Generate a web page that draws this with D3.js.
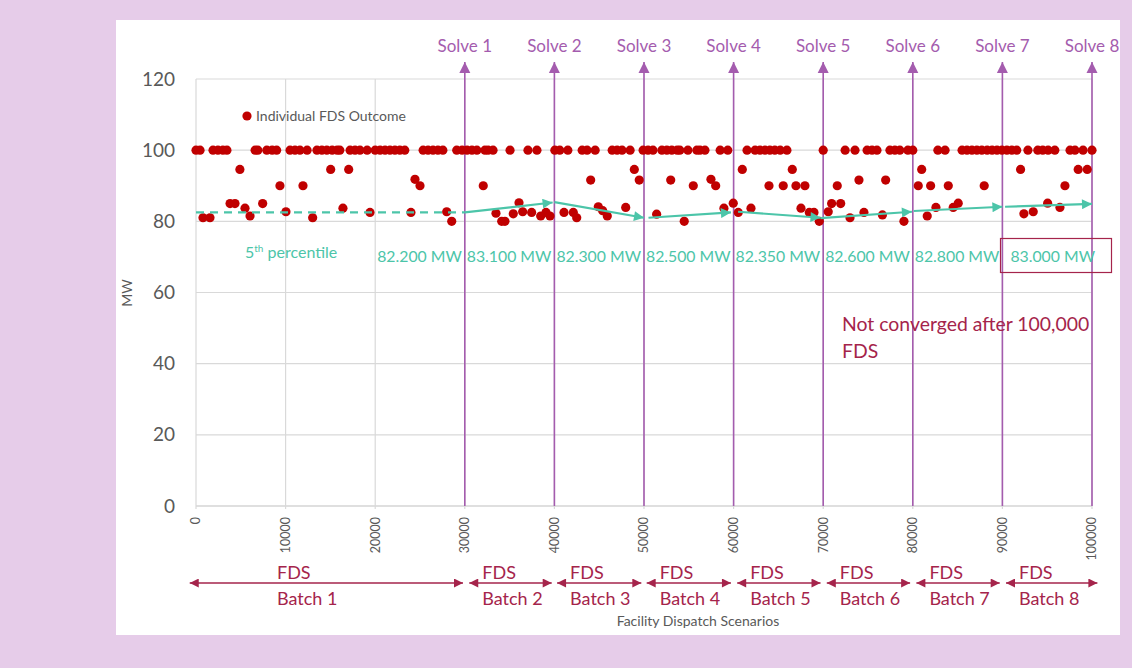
<!DOCTYPE html>
<html>
<head>
<meta charset="utf-8">
<script src="https://cdn.jsdelivr.net/npm/d3@7"></script>
<style>
  body { margin: 0; background: #e6cce9; }
  svg { display: block; }
  text { font-family: Lato, "Open Sans", sans-serif; }
</style>
</head>
<body>
<svg id="chart" width="1132" height="668"></svg>
<script>
// individual FDS outcomes sitting on 100 MW
var topX = [0,450,1900,2450,3000,3450,6600,6900,7900,8500,9000,10500,11050,11600,12400,13500,14050,14600,
  15200,15750,16050,17200,17750,18300,19100,20000,20550,21100,21650,22200,22750,23300,25350,25900,26450,27000,
  27550,29100,29700,30250,30800,31350,32250,32600,33150,35050,37050,38050,40050,40600,41500,43100,43650,44550,
  46450,47000,47550,48450,49900,50450,51000,52000,52550,53100,53700,54000,54900,55900,56250,56800,58500,59350,
  61500,62400,62950,63500,64050,64600,65200,65950,70000,72450,73550,74900,75450,76000,77450,78000,78550,79450,
  80000,82800,83600,85500,86050,86600,87150,87700,88300,88850,89400,89950,90500,91050,91600,92850,93950,94500,
  95100,95850,97550,98100,99000,100000];

// the rest of the outcomes (below 100 MW)
var lowX = [780,1560,3800,4350,4900,5470,6030,7440,9370,10040,11940,13020,15030,16400,17040,19420,23990,24440,
  25000,27980,28540,32060,33480,34120,34480,35410,36050,36460,37460,38470,39060,39510,41070,42110,42490,44050,
  44900,45390,45900,47960,48920,49470,51410,52980,54490,55500,57470,58000,58920,59960,60520,60970,61940,63950,
  65540,66550,66960,67960,67520,68450,68970,69560,70560,70940,71950,71570,72990,73990,74550,76610,76970,79010,
  80610,80990,81610,81990,82580,83960,84510,85070,87970,92030,92400,93440,95050,96420,96980,98460,99470];
var lowY = [81,81,85,85,94.6,83.7,81.5,85,90,82.7,90,81,94.6,83.7,94.6,82.5,82.5,91.8,
  90,82.7,80,90,82.3,80,80,82.1,85.2,82.7,82.5,81.5,82.5,81.5,82.5,82.5,81,91.6,
  84.1,83,81.5,83.9,94.6,91.6,82,91.6,80,90,91.8,90,83.7,85.1,82.5,94.6,83.7,90,
  90,94.6,90,90,83.7,82.5,82.5,80,82.7,85,85,90,81,91.6,82.5,81.8,91.6,80,
  90,94.6,81.5,90,83.9,90,83.9,85.1,90,94.6,82.1,82.7,85.1,83.9,90,94.6,94.6];

// 5th percentile trace
var pctDashX = [0, 30000];
var pctDashY = [82.5, 82.5];
var arrowFrom = [[30000,82.5],[40000,85.4],[50500,81.0],[60500,82.7],[69700,80.9],[80100,82.9],[90300,84.1]];
var arrowTo   = [[39800,85.3],[50000,81.0],[59700,82.5],[69700,81.0],[79900,82.7],[90000,84.1],[100000,84.9]];

var solveX = [30000,40000,50000,60000,70000,80000,90000,100000];
var solveLabels = ["Solve 1","Solve 2","Solve 3","Solve 4","Solve 5","Solve 6","Solve 7","Solve 8"];
var pctLabels = ["82.200 MW","83.100 MW","82.300 MW","82.500 MW","82.350 MW","82.600 MW","82.800 MW","83.000 MW"];

var batchStart = [-700,30500,40300,50300,60400,70400,80400,90400];
var batchEnd   = [29800,39700,49700,59700,69700,79700,89700,100600];
var batchNames = ["Batch 1","Batch 2","Batch 3","Batch 4","Batch 5","Batch 6","Batch 7","Batch 8"];

var yTicks = [0,20,40,60,80,100,120];
var xTicks = [0,10000,20000,30000,40000,50000,60000,70000,80000,90000,100000];

var teal = "#4cc5a9", purple = "#a45cae", crimson = "#a5244b", red = "#c00000", gray = "#595959";

var svg = d3.select("#chart");

// white panel
svg.append("rect").attr("x",116).attr("y",20).attr("width",1004).attr("height",615).attr("fill","#ffffff");

var x = d3.scaleLinear().domain([0,100000]).range([196,1092]);
var y = d3.scaleLinear().domain([0,120]).range([506,79]);

var defs = svg.append("defs");
function marker(id, color, w, h){
  defs.append("marker").attr("id",id)
    .attr("viewBox","0 0 10 10").attr("refX",10).attr("refY",5)
    .attr("markerWidth",w).attr("markerHeight",h)
    .attr("markerUnits","userSpaceOnUse")
    .attr("orient","auto-start-reverse")
    .append("path").attr("d","M0,0L10,5L0,10Z").attr("fill",color);
}
marker("tealHead", teal, 13, 10);
marker("purpleHead", purple, 11, 12);
marker("batchHead", crimson, 11, 9);

// gridlines
svg.append("g").selectAll("line.h").data(yTicks).enter().append("line")
  .attr("x1",x(0)).attr("x2",x(100000))
  .attr("y1",function(d){return y(d)}).attr("y2",function(d){return y(d)})
  .attr("stroke",function(d){return d==0 ? "#bfbfbf" : "#d9d9d9"}).attr("stroke-width",1.2);
svg.append("g").selectAll("line.v").data(xTicks).enter().append("line")
  .attr("x1",function(d){return x(d)}).attr("x2",function(d){return x(d)})
  .attr("y1",y(0)+3).attr("y2",y(120))
  .attr("stroke","#d9d9d9").attr("stroke-width",1.2);

// y tick labels
svg.append("g").selectAll("text").data(yTicks).enter().append("text")
  .attr("x",175).attr("y",function(d){return y(d)}).attr("dy","0.35em")
  .attr("text-anchor","end").attr("font-size",19).attr("fill",gray)
  .text(function(d){return d});
svg.append("text").attr("transform","translate(132,293) rotate(-90)")
  .attr("text-anchor","middle").attr("font-size",14).attr("fill",gray).text("MW");

// x tick labels, rotated
svg.append("g").selectAll("text").data(xTicks).enter().append("text")
  .attr("transform",function(d){return "translate("+x(d)+",517) rotate(-90)"})
  .attr("dy","0.35em").attr("text-anchor","end").attr("font-size",12.5).attr("fill",gray)
  .text(function(d){return d});
svg.append("text").attr("x",698).attr("y",626).attr("text-anchor","middle")
  .attr("font-size",14).attr("fill",gray).text("Facility Dispatch Scenarios");

// solve lines
svg.append("g").selectAll("line").data(solveX).enter().append("line")
  .attr("x1",function(d){return x(d)}).attr("x2",function(d){return x(d)})
  .attr("y1",y(0)).attr("y2",62)
  .attr("stroke",purple).attr("stroke-width",1.6).attr("marker-end","url(#purpleHead)");
svg.append("g").selectAll("text").data(solveX).enter().append("text")
  .attr("x",function(d){return x(d)}).attr("y",52).attr("text-anchor","middle")
  .attr("font-size",17).attr("fill",purple)
  .text(function(d,i){return solveLabels[i]});

// points
svg.append("g").selectAll("circle.top").data(topX).enter().append("circle")
  .attr("cx",function(d){return x(d)}).attr("cy",y(100)).attr("r",4.6).attr("fill",red);
svg.append("g").selectAll("circle.low").data(lowX).enter().append("circle")
  .attr("cx",function(d){return x(d)}).attr("cy",function(d,i){return y(lowY[i])}).attr("r",4.6).attr("fill",red);

// 5th percentile
svg.append("line").attr("x1",x(pctDashX[0])).attr("x2",x(pctDashX[1]))
  .attr("y1",y(pctDashY[0])).attr("y2",y(pctDashY[1]))
  .attr("stroke",teal).attr("stroke-width",2.2).attr("stroke-dasharray","8,6");
svg.append("g").selectAll("line").data(arrowFrom).enter().append("line")
  .attr("x1",function(d){return x(d[0])}).attr("y1",function(d){return y(d[1])})
  .attr("x2",function(d,i){return x(arrowTo[i][0])}).attr("y2",function(d,i){return y(arrowTo[i][1])})
  .attr("stroke",teal).attr("stroke-width",2.2).attr("marker-end","url(#tealHead)");

var pl = svg.append("text").attr("x",245).attr("y",258).attr("font-size",16).attr("fill",teal);
pl.append("tspan").text("5");
pl.append("tspan").attr("font-size",10).attr("dy",-6).text("th");
pl.append("tspan").attr("dy",6).text(" percentile");

svg.append("g").selectAll("text").data(pctLabels).enter().append("text")
  .attr("x",function(d,i){return i==7 ? x(solveX[i])+3 : x(solveX[i])-3})
  .attr("y",262).attr("text-anchor","end").attr("font-size",15.8).attr("fill",teal)
  .text(function(d){return d});
svg.append("rect").attr("x",1000.5).attr("y",238.5).attr("width",111).attr("height",34)
  .attr("fill","none").attr("stroke",crimson).attr("stroke-width",1.2);

// legend
svg.append("circle").attr("cx",247).attr("cy",116).attr("r",4.6).attr("fill",red);
svg.append("text").attr("x",256).attr("y",121).attr("font-size",14).attr("fill",gray).text("Individual FDS Outcome");

// not converged note
svg.append("text").attr("x",842).attr("y",331).attr("font-size",19.4).attr("fill",crimson).text("Not converged after 100,000");
svg.append("text").attr("x",842).attr("y",358).attr("font-size",19.4).attr("fill",crimson).text("FDS");

// batches
var bg = svg.append("g");
bg.selectAll("line").data(batchStart).enter().append("line")
  .attr("x1",function(d){return x(d)}).attr("x2",function(d,i){return x(batchEnd[i])})
  .attr("y1",583).attr("y2",583).attr("stroke",crimson).attr("stroke-width",1.6)
  .attr("marker-start","url(#batchHead)").attr("marker-end","url(#batchHead)");
bg.selectAll("text.fds").data(batchStart).enter().append("text")
  .attr("x",function(d,i){return i==0 ? 277 : x(d)+13}).attr("y",579)
  .attr("font-size",18).attr("fill",crimson).text("FDS");
bg.selectAll("text.bn").data(batchNames).enter().append("text")
  .attr("x",function(d,i){return i==0 ? 277 : x(batchStart[i])+13}).attr("y",605)
  .attr("font-size",18).attr("fill",crimson).text(function(d){return d});
</script>
</body>
</html>
